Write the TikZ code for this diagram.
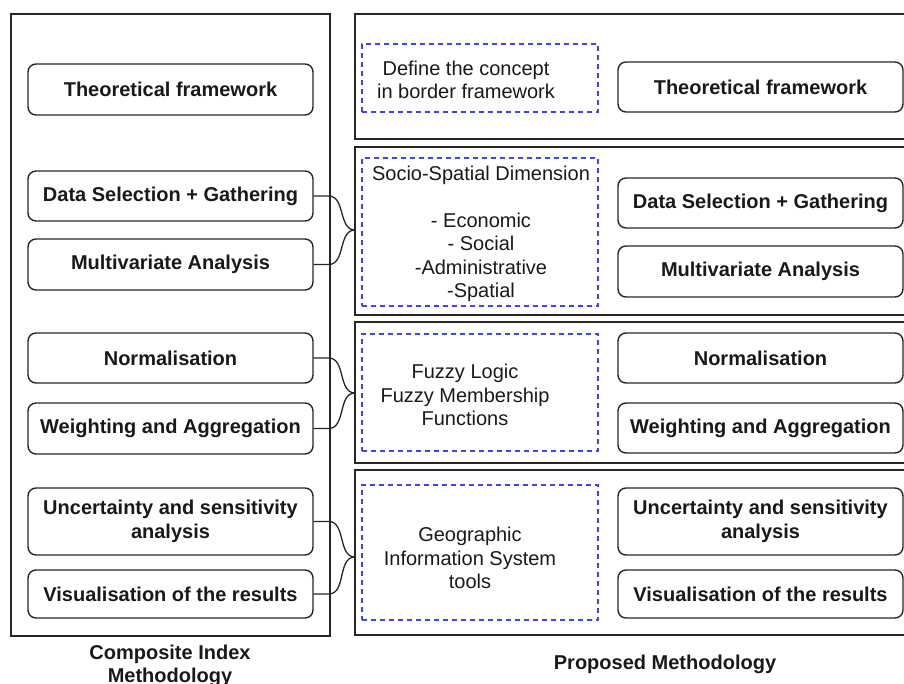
\documentclass[tikz,border=0pt]{standalone}
\usepackage{fontspec}
\setmainfont{Liberation Sans}
\begin{document}
\begin{tikzpicture}[x=1pt, y=-1pt,
    every node/.style={font=\fontsize{20}{23.5}\selectfont, align=center, text=black!90},
    stepbox/.style={draw=black!85, line width=1.4pt, rounded corners=8pt, minimum width=285pt, font=\fontsize{20}{23.5}\selectfont\bfseries},
    dashbox/.style={draw=blue!75!white, dash pattern=on 5pt off 4pt, line width=1.3pt, minimum width=236pt},
    frame/.style={draw=black!85, line width=2pt},
    brace/.style={draw=black!85, line width=1.3pt}]
    \clip (0,0) rectangle (904,684);

    % outer frames
    \draw[frame] (11,14) rectangle (330,636);
    \draw[frame] (355,14) rectangle (930,139);
    \draw[frame] (355,147) rectangle (930,315);
    \draw[frame] (355,322) rectangle (930,463);
    \draw[frame] (355,470) rectangle (930,635);

    % composite index steps
    \node[stepbox, minimum height=51pt] (lth) at (170.5,89.5) {Theoretical framework};
    \node[stepbox, minimum height=50pt] (lds) at (170.5,196) {Data Selection + Gathering};
    \node[stepbox, minimum height=51pt] (lmv) at (170.5,264.5) {Multivariate Analysis};
    \node[stepbox, minimum height=50pt] (lno) at (170.5,358) {Normalisation};
    \node[stepbox, minimum height=51pt] (lwa) at (170.5,428.5) {Weighting and Aggregation};
    \node[stepbox, minimum height=67pt] (lun) at (170.5,521.5) {Uncertainty and sensitivity\\analysis};
    \node[stepbox, minimum height=48pt] (lvi) at (170.5,594) {Visualisation of the results};

    % proposed steps
    \node[stepbox, minimum height=50pt] (rth) at (760.5,87) {Theoretical framework};
    \node[stepbox, minimum height=50pt] (rds) at (760.5,203) {Data Selection + Gathering};
    \node[stepbox, minimum height=51pt] (rmv) at (760.5,271.5) {Multivariate Analysis};
    \node[stepbox, minimum height=50pt] (rno) at (760.5,358) {Normalisation};
    \node[stepbox, minimum height=50pt] (rwa) at (760.5,428) {Weighting and Aggregation};
    \node[stepbox, minimum height=67pt] (run) at (760.5,521.5) {Uncertainty and sensitivity\\analysis};
    \node[stepbox, minimum height=48pt] (rvi) at (760.5,594) {Visualisation of the results};

    % dashed blocks
    \node[dashbox, minimum height=68pt] (dconcept) at (480,78) {};
    \node[dashbox, minimum height=148pt] (ddim) at (480,232) {};
    \node[dashbox, minimum height=117pt] (dfuzzy) at (480,392.5) {};
    \node[dashbox, minimum height=135pt] (dgis) at (480,552.5) {};

    \node (tconcept) at (466,80) {Define the concept\\in border framework};
    \node (tdim) at (481,234) {Socio-Spatial Dimension\\[23.5pt]- Economic\\- Social\\-Administrative\\-Spatial};
    \node (tfuzzy) at (465,395) {Fuzzy Logic\\Fuzzy Membership\\Functions};
    \node (tgis) at (470,558) {Geographic\\Information System\\tools};

    % braces
    \coordinate (tipA) at (355,230);
    \coordinate (tipB) at (355,393);
    \coordinate (tipC) at (355,557);
    \draw[brace] (lds.east) -- ++(15,0) to[out=0,in=180] (tipA);
    \draw[brace] (lmv.east) -- ++(15,0) to[out=0,in=180] (tipA);
    \draw[brace] (lno.east) -- ++(15,0) to[out=0,in=180] (tipB);
    \draw[brace] (lwa.east) -- ++(15,0) to[out=0,in=180] (tipB);
    \draw[brace] (lun.east) -- ++(15,0) to[out=0,in=180] (tipC);
    \draw[brace] (lvi.east) -- ++(15,0) to[out=0,in=180] (tipC);

    % captions
    \node[font=\fontsize{20}{23.5}\selectfont\bfseries] (capleft) at (170,666) {Composite Index\\Methodology};
    \node[font=\fontsize{20}{23.5}\selectfont\bfseries] (capright) at (665,664) {Proposed Methodology};
\end{tikzpicture}
\end{document}
